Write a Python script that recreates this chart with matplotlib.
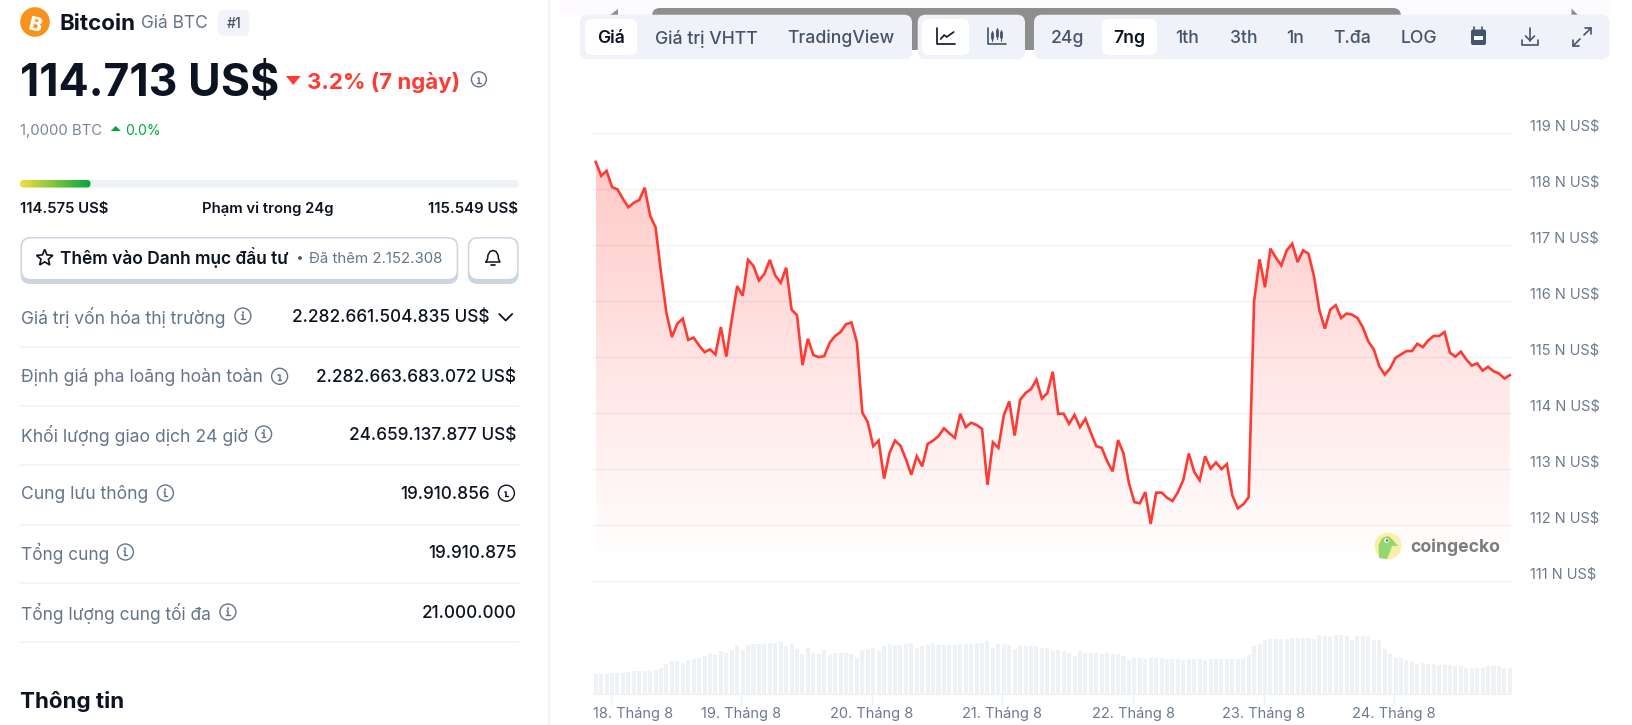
import numpy as np
import matplotlib
matplotlib.use("Agg")
import matplotlib.pyplot as plt
from matplotlib.patches import FancyBboxPatch, Circle, PathPatch, Polygon, Rectangle
from matplotlib.path import Path
from matplotlib.transforms import Affine2D, ScaledTranslation
from matplotlib.colors import LinearSegmentedColormap

W, H = 1633, 725
FONT = "Inter"
plt.rcParams["font.family"] = [FONT, "DejaVu Sans"]

price_k = [
 118.48,118.23,118.32,118.03,117.99,117.82,117.67,117.75,117.80,118.02,117.52,117.31,116.50,115.78,115.35,115.59,115.68,
 115.30,115.34,115.20,115.08,115.13,115.04,115.53,115.00,115.66,116.26,116.09,116.73,116.62,116.36,116.48,116.73,116.45,
 116.32,116.59,115.84,115.74,114.85,115.32,115.03,114.99,115.01,115.25,115.37,115.44,115.58,115.61,115.26,114.00,113.83,
 113.40,113.50,112.82,113.28,113.50,113.41,113.17,112.89,113.22,113.04,113.44,113.50,113.58,113.72,113.63,113.55,113.98,
 113.74,113.82,113.78,113.71,112.71,113.47,113.37,113.95,114.20,113.59,114.23,114.35,114.42,114.59,114.25,114.35,114.73,
 113.98,113.98,113.80,113.96,113.74,113.89,113.64,113.40,113.37,113.13,112.95,113.51,113.27,112.74,112.40,112.38,112.58,
 112.01,112.57,112.57,112.48,112.42,112.58,112.80,113.27,112.94,112.79,113.22,113.00,113.11,112.99,113.08,112.52,112.29,
 112.36,112.49,115.99,116.74,116.24,116.93,116.77,116.63,116.90,117.02,116.69,116.90,116.84,116.44,115.83,115.50,115.84,
 115.92,115.69,115.77,115.75,115.69,115.52,115.27,115.13,114.83,114.68,114.79,114.98,115.04,115.10,115.10,115.23,115.17,
 115.29,115.37,115.37,115.44,115.07,115.00,115.09,114.95,114.84,114.88,114.75,114.82,114.74,114.70,114.61,114.67]
volume = [
 61,61,61,65,65,65,68,69,69,69,69,73,80,91,99,99,95,102,106,110,114,125,117,129,125,133,144,133,148,151,151,151,155,155,159,
 144,151,136,121,140,125,121,133,117,125,125,125,121,110,133,136,140,129,144,151,148,148,151,155,140,144,148,155,148,148,148,
 148,151,151,151,155,155,159,140,151,151,148,136,148,144,144,144,140,140,129,133,129,125,114,129,125,125,125,121,125,121,121,
 114,102,110,110,106,110,110,110,106,106,106,102,106,106,106,102,106,106,106,106,106,106,106,117,144,151,163,166,166,166,166,
 170,170,170,170,166,178,174,174,178,178,174,163,174,174,174,163,163,136,121,110,110,102,99,91,95,91,91,87,87,87,84,84,80,80,
 80,80,84,84,84,80,80]
hours = np.arange(len(price_k))
y_ticks_k = [111,112,113,114,115,116,117,118,119]
y_tick_labels = [f"{v} N US$" for v in y_ticks_k]
day_ticks = [2.75,26.75,50.75,74.75,98.75,122.75,146.75]
day_labels = ["18. Tháng 8","19. Tháng 8","20. Tháng 8","21. Tháng 8","22. Tháng 8","23. Tháng 8","24. Tháng 8"]

INK="#0d1421"; SLATE="#64748b"; MID="#4b5563"; RED="#ff3a33"; GREEN="#00a83e"; PANEL="#eff2f8"

fig = plt.figure(figsize=(W/100,H/100),dpi=100,facecolor="white")
def axpos(x0,x1,ytop,ybot):
    return [x0/W,(H-ybot)/H,(x1-x0)/W,(ybot-ytop)/H]

# ---------- price chart
X0,X1=593,1512
ax=fig.add_axes(axpos(X0,X1,132.8,580.5),facecolor="none",zorder=2)
ax.set_xlim(-0.5,168.4); ax.set_ylim(111,119)
for s in ax.spines.values(): s.set_visible(False)
ax.set_xticks([])
ax.set_yticks(y_ticks_k,y_tick_labels)
ax.yaxis.tick_right()
ax.tick_params(axis="y",length=0,pad=13.0,labelsize=10.5,labelcolor="#6b7a90")
off=ScaledTranslation(0,8/100,fig.dpi_scale_trans)
for t in ax.get_yticklabels(): t.set_transform(t.get_transform()+off)
ax.grid(axis="y",color="#f1f2f4",lw=1.0,zorder=0)
for g in ax.get_ygridlines(): g.set_clip_on(False)
ax.set_axisbelow(True)
FLOOR=111.3
poly=ax.fill_between(hours,price_k,FLOOR,facecolor="none",edgecolor="none")
cmap=LinearSegmentedColormap.from_list("f",[(1,.23,.2,.27),(1,.23,.2,.0)])
im=ax.imshow(np.linspace(0,1,256).reshape(-1,1),cmap=cmap,aspect="auto",extent=(hours[0],hours[-1],FLOOR,max(price_k)),zorder=1,origin="upper")
im.set_clip_path(poly.get_paths()[0],transform=ax.transData)
ax.set_xlim(-0.5,168.4); ax.set_ylim(111,119)
ax.plot(hours,price_k,color=RED,lw=1.9,zorder=3,solid_joinstyle="miter",clip_on=False)

# ---------- volume
av=fig.add_axes(axpos(X0,X1,630,694.3),facecolor="none",zorder=2)
av.bar(hours,volume,width=0.74,color="#eff2f5")
av.set_xlim(-0.5,168.4); av.set_ylim(0,193)
for k,s in av.spines.items(): s.set_visible(k=="bottom")
av.spines["bottom"].set_color("#eff2f5"); av.spines["bottom"].set_linewidth(1)
av.set_yticks([])
av.set_xticks(day_ticks,day_labels)
av.tick_params(axis="x",length=8,width=1,color="#eff2f5",pad=1.4,labelsize=10.5,labelcolor="#6b7a90")
first=av.get_xticklabels()[0]
first.set_transform(first.get_transform()+ScaledTranslation(22/100,0,fig.dpi_scale_trans))

# ---------- page furniture, in pixel coordinates
ui=fig.add_axes([0,0,1,1],facecolor="none",zorder=3)
ui.set_xlim(0,W); ui.set_ylim(H,0); ui.axis("off")
fig.canvas.draw()
rend=fig.canvas.get_renderer()

def T(s,x,y,size=14,color=INK,weight="normal",ha="left",x1=None,**kw):
    t=ui.text(x,y,s,fontsize=size*.72,color=color,fontweight=weight,ha=ha,va="center_baseline",**kw)
    if x1 is not None:
        w=t.get_window_extent(rend).width
        t.set_fontsize(t.get_fontsize()*(x1-x)/w)
    return t
def RR(x0,y0,x1,y1,r,fc,ec="none",lw=0,z=1):
    p=FancyBboxPatch((x0+r,y0+r),x1-x0-2*r,y1-y0-2*r,boxstyle=f"round,pad={r}",fc=fc,ec=ec,lw=lw,zorder=z)
    ui.add_patch(p); return p
def L(xs,ys,c=SLATE,lw=1.1,z=5,**kw):
    ui.plot(xs,ys,color=c,lw=lw,zorder=z,solid_capstyle="round",solid_joinstyle="round",**kw)
def info(x,y,r=7.5,c=SLATE):
    ui.add_patch(Circle((x,y),r,fc="none",ec=c,lw=1.0,zorder=5))
    L([x-1.3,x,x,],[y-1,y-1,y+3.2],c,1.1)
    L([x-1.8,x+1.8],[y+3.2,y+3.2],c,1.0)
    L([x,x],[y-3.6,y-3.3],c,1.3)

# left column
ui.add_patch(Rectangle((548.5,0),1.5,H,fc="#f2f4f7",ec="none"))
ui.add_patch(Circle((35,22),14.8,fc="#f7931a",ec="none"))
T("B",35,22,19,"white","bold",ha="center",rotation=-14,family="DejaVu Sans")
T("Bitcoin",60,21.5,21,INK,"bold",x1=136)
T("Giá BTC",141.4,21.5,16,SLATE,x1=208.2)
RR(218,10,249.5,36,6,"#f1f4f8")
T("#1",233.8,22,14,MID,"medium",ha="center")
T("114.713 US$",20,79,46,INK,"bold",x1=279)
ui.add_patch(Polygon([(286,76),(300.7,76),(293.2,85)],fc=RED,ec="none"))
T("3.2% (7 ngày)",307.4,80,22,RED,"bold",x1=460.5)
info(478.9,79.3)
T("1,0000 BTC",20,129.5,14,"#7a8699",x1=102.5)
ui.add_patch(Polygon([(110.7,131),(120.8,131),(115.7,126)],fc=GREEN,ec="none"))
T("0.0%",125.3,129.5,15.5,GREEN,x1=160.5)
RR(20,180,518.6,187.5,3.5,"#eff2f5")
barfill=RR(20,180,90.5,187.5,3.5,"none")
grad=LinearSegmentedColormap.from_list("g",["#f4df3a","#00a83e"])
gi=ui.imshow(np.linspace(0,1,128).reshape(1,-1),cmap=grad,extent=(20,90.5,187.5,180),aspect="auto",zorder=2)
gi.set_clip_path(barfill)
ui.set_xlim(0,W); ui.set_ylim(H,0)
T("114.575 US$",20,207.7,15,INK,"semibold",x1=107.9)
T("Phạm vi trong 24g",267.9,207.7,14.9,INK,"semibold",ha="center")
T("115.549 US$",517.9,207.7,15,INK,"semibold",ha="right")
# buttons
for x0,x1 in [(20.5,458.2),(467.8,518.6)]:
    RR(x0,237,x1,284,10,"#cbd5e1",z=1)
    RR(x0+1.5,238.5,x1-1.5,279,9,"white",z=2)
star=Path.unit_regular_star(5,0.45)
ui.add_patch(PathPatch(star.transformed(Affine2D().scale(8.6,-8.6).translate(44.7,258)),fc="none",ec=INK,lw=1.2,zorder=5))
T("Thêm vào Danh mục đầu tư",60,256,16,INK,"semibold",x1=290.7)
ui.add_patch(Circle((300,258),1.9,fc=MID,ec="none",zorder=5))
T("Đã thêm 2.152.308",308.9,257,14,SLATE,x1=443)
# bell
bx,by=493,257
L([bx-7,bx-5.5,bx-5,bx-3,bx,bx+3,bx+5,bx+5.5,bx+7,bx-7],[by+5,by+2,by-2,by-5.5,by-6.5,by-5.5,by-2,by+2,by+5,by+5],INK,1.1)
L([bx-2,bx+2],[by+8,by+8],INK,1.2)
# rows
rows_label=["Giá trị vốn hóa thị trường","Định giá pha loãng hoàn toàn","Khối lượng giao dịch 24 giờ","Cung lưu thông","Tổng cung","Tổng lượng cung tối đa"]
rows_value=["2.282.661.504.835 US$","2.282.663.683.072 US$","24.659.137.877 US$","19.910.856","19.910.875","21.000.000"]
rows_y=[315,375.3,433,492,551,611]
rows_label_end=[226.8,265.0,248.5,149,109,211.4]
rows_icon=[242.9,279.6,263.6,165.4,125.4,227.9]
rows_value_right=[490,516.4,516.4,490,516.8,516.4]
rows_div=[347,406,464.7,524.7,583.3,642]
for lab,val,y,e,ic,r,d in zip(rows_label,rows_value,rows_y,rows_label_end,rows_icon,rows_value_right,rows_div):
    T(lab,21.4,y,16,SLATE,x1=e)
    info(ic,y+1,8)
    T(val,r,y,17.2,INK,"medium",ha="right")
    ui.plot([20,518.6],[d,d],color="#f0f2f5",lw=1.1)
L([499.2,505.7,512.2],[314,320.5,314],INK,1.3)
info(506.4,493.2,8,INK)
T("Thông tin",20.4,699,23,INK,"bold",x1=124.5)

# toolbar
ui.add_patch(Rectangle((560,0),1050,15,fc="#fcfafc",ec="none",zorder=0))
grey=FancyBboxPatch((660,16),733,26,boxstyle="round,pad=8",fc="#8e8e8e",ec="none",zorder=0.5); ui.add_patch(grey)
ui.add_patch(Polygon([(618,8.5),(618,15),(610,15)],fc="#8e8e8e",ec="none",zorder=0.5))
ui.add_patch(Polygon([(1571.5,8.5),(1578,15),(1571.5,15)],fc="#8e8e8e",ec="none",zorder=0.5))
for a,b in [(580,912),(917.7,1025),(1034,1609.6)]:
    RR(a,14.7,b,59.3,8,PANEL,z=1)
for a,b in [(585,637.3),(921.7,969.3),(1102,1157)]:
    RR(a,19,b,55,7,"white",z=2)
tab_labels=["Giá","Giá trị VHTT","TradingView","24g","7ng","1th","3th","1n","T.đa","LOG"]
tab_x=[611,706,841,1068,1129,1187,1243.5,1295.5,1352.5,1419]
tab_active=["Giá","7ng"]
for s,x in zip(tab_labels,tab_x):
    T(s,x,36.5,17.6,INK if s in tab_active else "#44546a","medium" if s not in tab_active else "semibold",ha="center")
# line-chart icon
ix,iy=945.7,36
L([ix-8.5,ix-8.5,ix+9],[iy-8,iy+7.5,iy+7.5],INK,1.2)
L([ix-5,ix-1.5,ix+1,ix+8],[iy+3,iy-1,iy+1,iy-4],INK,1.2)
# candlestick icon
ix=997
L([ix-8.5,ix-8.5,ix+9],[iy-8,iy+7.5,iy+7.5],"#44546a",1.2)
for dx,a,b,c,d in [(-4.5,-5,5,-3,2),(0,-8,3,-6,0),(4.5,-6,5,-4,1)]:
    L([ix+dx,ix+dx],[iy+a,iy+b],"#44546a",0.8)
    L([ix+dx,ix+dx],[iy+c,iy+d],"#44546a",2.0)
# calendar
cx,cy=1478.5,37
RR(cx-7.5,cy-7.5,cx+7.5,cy+8,2,"#44546a",z=5)
ui.add_patch(Rectangle((cx-4.5,cy-1.5),9,4,fc="white",ec="none",zorder=6))
L([cx-4,cx-4],[cy-10,cy-7],"#44546a",1.2); L([cx+4,cx+4],[cy-10,cy-7],"#44546a",1.2)
# download
dx,dy=1530,37
L([dx,dx],[dy-9,dy+3.5],"#44546a",1.2); L([dx-4.5,dx,dx+4.5],[dy-1,dy+3.5,dy-1],"#44546a",1.2)
L([dx-8,dx-8,dx+8,dx+8],[dy+3,dy+8,dy+8,dy+3],"#44546a",1.2)
# expand
ex,ey=1582,37
L([ex+2,ex+9],[ey-2,ey-9],"#44546a",1.2); L([ex+3,ex+9,ex+9],[ey-9,ey-9,ey-3],"#44546a",1.2)
L([ex-2,ex-9],[ey+2,ey+9],"#44546a",1.2); L([ex-9,ex-9,ex-3],[ey+3,ey+9,ey+9],"#44546a",1.2)
# watermark
ui.add_patch(Circle((1388,546),13.5,fc="#fbeea8",ec="none",zorder=5))
ui.add_patch(Polygon([(1379,558),(1378.5,545),(1382,538),(1388,536),(1392,539),(1398,546),(1392,546),(1390,552),(1387,559)],fc="#93d76d",ec="none",zorder=6))
ui.add_patch(Circle((1386.5,540.5),2.3,fc="white",ec="none",zorder=7))
ui.add_patch(Circle((1387,540.5),1.1,fc="#555555",ec="none",zorder=8))
T("coingecko",1410,545.5,17,"#7c7c7c","bold",x1=1499)

fig.savefig("out.png",dpi=100,facecolor="white")
